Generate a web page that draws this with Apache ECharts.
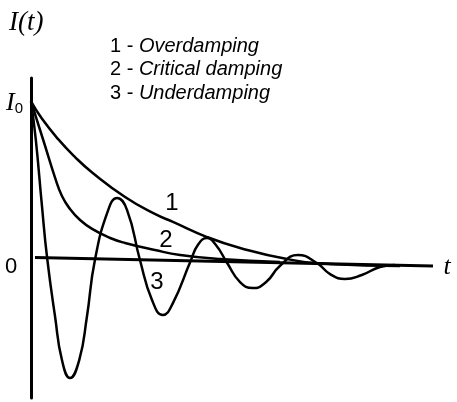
<!DOCTYPE html>
<html>
<head>
<meta charset="utf-8">
<script src="https://cdn.jsdelivr.net/npm/echarts@6/dist/echarts.min.js"></script>
<style>
  html, body { margin: 0; padding: 0; background: #fff; }
  #damping { width: 457px; height: 402px; }
</style>
</head>
<body>
<div id="damping"></div>
<script>
// values: [t, I/I0]
const overdamping = [
  [0, 1.0], [0.27, 0.89], [0.67, 0.76], [1.09, 0.645], [1.52, 0.545],
  [2.34, 0.388], [3.08, 0.279], [3.53, 0.228], [4.38, 0.131], [5.2, 0.061],
  [6.37, -0.01], [7.44, -0.042], [9.18, -0.054]
];
const criticalDamping = [
  [0, 1.0], [0.32, 0.74], [0.6, 0.51], [0.77, 0.394], [0.97, 0.311],
  [1.22, 0.24], [1.52, 0.183], [1.97, 0.125], [2.34, 0.093], [3.08, 0.048],
  [3.71, 0.016], [4.7, -0.01], [6.19, -0.029]
];
const underdamping = [
  [0, 1.0], [0.12, 0.753], [0.27, 0.337], [0.4, 0], [0.6, -0.381],
  [0.77, -0.657], [0.97, -0.772], [1.2, -0.657], [1.39, -0.381], [1.59, -0.016],
  [1.92, 0.304], [2.14, 0.381], [2.39, 0.304], [2.71, -0.016], [3.01, -0.272],
  [3.28, -0.369], [3.53, -0.292], [3.96, -0.029], [4.15, 0.08], [4.38, 0.125],
  [4.6, 0.08], [4.88, -0.035], [5.2, -0.157], [5.52, -0.196], [5.85, -0.157],
  [6.19, -0.054], [6.64, 0.016], [7.11, -0.035], [7.44, -0.106], [7.81, -0.138],
  [8.23, -0.112], [8.68, -0.061], [9.05, -0.048]
];
// the t axis in the scan is drawn slightly askew
const tAxis = [[0.1, 0], [10, -0.054]];
const legendLines = [
  ["1 - ", "Overdamping"],
  ["2 - ", "Critical damping"],
  ["3 - ", "Underdamping"]
];
const curveLabels = ["1", "2", "3"];

const chart = echarts.init(document.getElementById("damping"));

const curve = (name, data) => ({
  name: name,
  type: "line",
  data: data,
  smooth: 0.5,
  showSymbol: false,
  lineStyle: { color: "#000", width: 2.5 },
  z: 3
});

const legendText = legendLines.map((row, i) => ({
  type: "text",
  style: {
    x: 110,
    y: 46 + i * 23.5,
    text: "{n|" + row[0] + "}{i|" + row[1] + "}",
    textVerticalAlign: "middle",
    rich: {
      n: { font: '20px "Liberation Sans"', fill: "#000" },
      i: { font: 'italic 20px "Liberation Sans"', fill: "#000" }
    }
  }
}));

const labelPos = [[172, 203], [166, 240], [157, 282]];
const curveText = curveLabels.map((t, i) => ({
  type: "text",
  style: {
    x: labelPos[i][0],
    y: labelPos[i][1],
    text: t,
    font: '24px "Liberation Sans"',
    fill: "#000",
    textAlign: "center",
    textVerticalAlign: "middle"
  }
}));

const option = {
  animation: false,
  grid: { left: 31, right: 24, top: 78, bottom: 4 },
  xAxis: {
    type: "value",
    min: 0,
    max: 10,
    axisLine: { show: false },
    axisTick: { show: false },
    axisLabel: { show: false },
    splitLine: { show: false }
  },
  yAxis: {
    type: "value",
    min: -0.9,
    max: 1.15,
    axisLine: { show: true, lineStyle: { color: "#000", width: 3 } },
    axisTick: { show: false },
    axisLabel: { show: false },
    splitLine: { show: false }
  },
  series: [
    {
      name: "t axis",
      type: "line",
      data: tAxis,
      showSymbol: false,
      lineStyle: { color: "#000", width: 3 },
      z: 2
    },
    curve("Overdamping", overdamping),
    curve("Critical damping", criticalDamping),
    curve("Underdamping", underdamping)
  ],
  graphic: [
    {
      type: "text",
      style: {
        x: 9, y: 23, text: "I(t)",
        font: 'italic 27px "Liberation Serif"',
        fill: "#000", textVerticalAlign: "middle"
      }
    },
    {
      type: "text",
      style: {
        x: 6, y: 103,
        text: "{i|I}{s|0}",
        textVerticalAlign: "middle",
        rich: {
          i: { font: 'italic 26px "Liberation Serif"', fill: "#000" },
          s: { font: '15px "Liberation Sans"', fill: "#000", padding: [12, 0, 0, 0] }
        }
      }
    },
    {
      type: "text",
      style: {
        x: 11, y: 267, text: "0",
        font: '22px "Liberation Sans"',
        fill: "#000", textAlign: "center", textVerticalAlign: "middle"
      }
    },
    {
      type: "text",
      style: {
        x: 447, y: 267, text: "t",
        font: 'italic 26px "Liberation Serif"',
        fill: "#000", textAlign: "center", textVerticalAlign: "middle"
      }
    }
  ].concat(legendText, curveText)
};

chart.setOption(option);
</script>
</body>
</html>
